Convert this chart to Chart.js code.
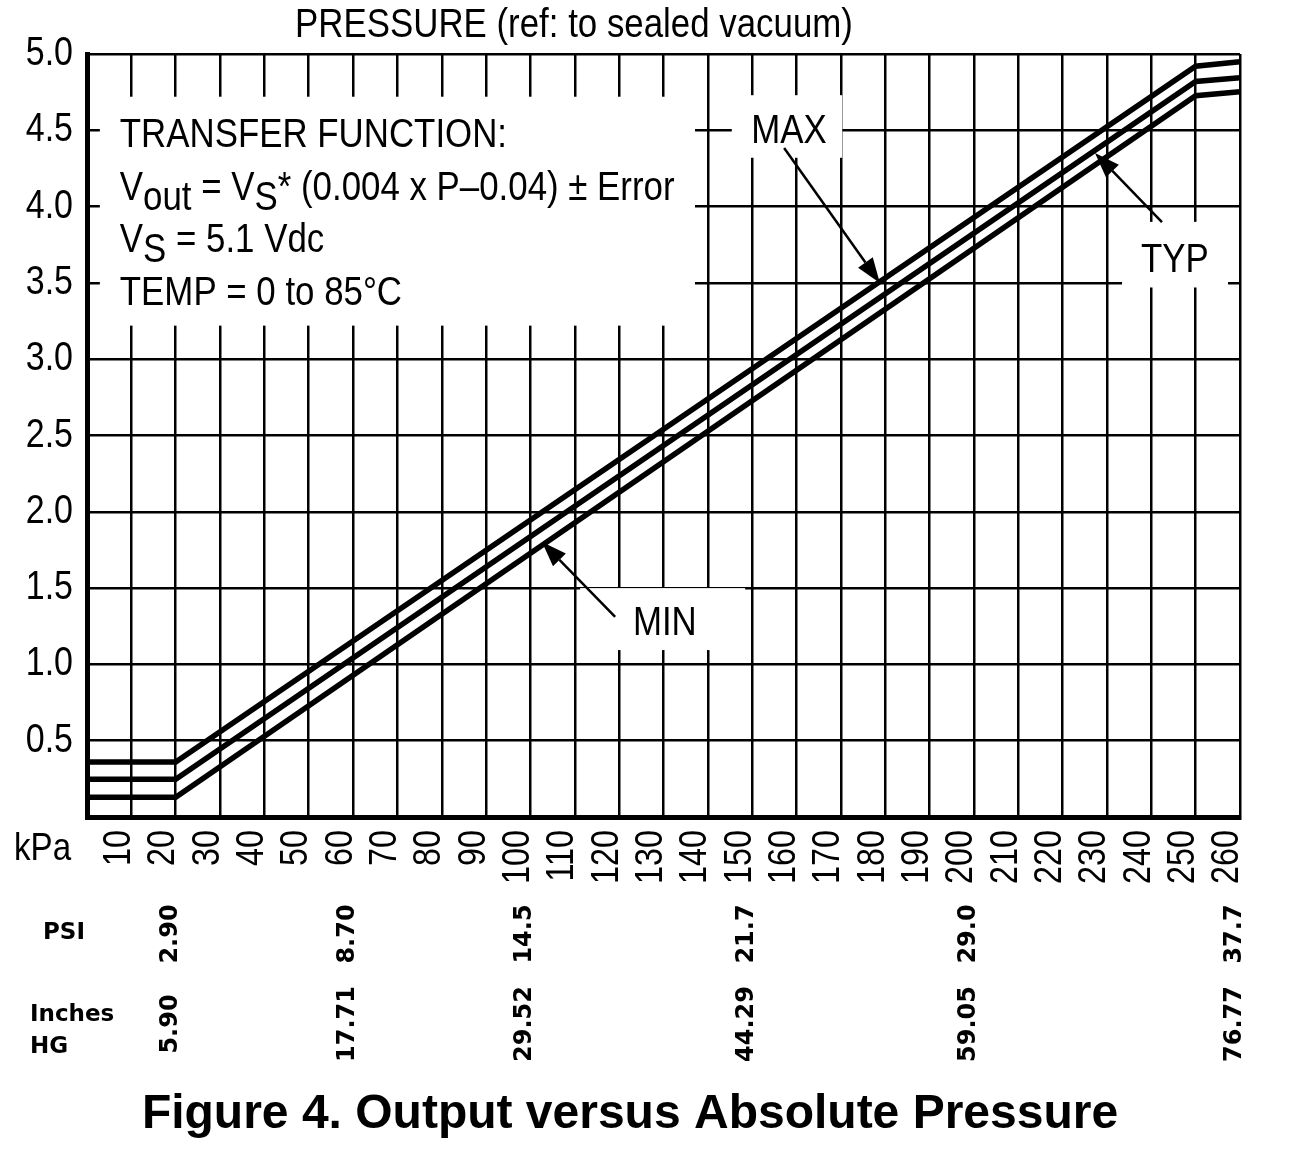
<!DOCTYPE html>
<html><head><meta charset="utf-8">
<script src="https://cdn.jsdelivr.net/npm/chart.js@4.4.1/dist/chart.umd.min.js"></script>
<style>html,body{margin:0;padding:0;background:#fff}canvas{display:block}</style>
</head><body>
<canvas id="c" width="1300" height="1150"></canvas>
<script>
// ---- data ----
const pressureKpa = [0, 20, 250, 260];
const maxOut = [0.36, 0.36, 4.92, 4.95];
const typOut = [0.247, 0.247, 4.82, 4.845];
const minOut = [0.129, 0.129, 4.727, 4.753];
const kpaMin = 0, kpaMax = 260, kpaStep = 10;
const voltMin = 0, voltMax = 5, voltStep = 0.5;
const psiAtKpa = [20, 60, 100, 150, 200, 260];
const psiLabels = ['2.90', '8.70', '14.5', '21.7', '29.0', '37.7'];
const hgLabels = ['5.90', '17.71', '29.52', '44.29', '59.05', '76.77'];

// ---- annotation anchors (data units) ----
const transferBox = {x0: 2.9, x1: 137.1, y0: 4.72, y1: 3.22};
const transferAnchor = {x: 7.4, y: 4.39};
const labelBoxes = [
  {text: 'MAX', x0: 145.4, x1: 170.3, y0: 4.73, y1: 4.32, tx: 158.3, ty: 4.417, ax0: 157.2, ay0: 4.384, ax1: 178.8, ay1: 3.50},
  {text: 'TYP', x0: 233.4, x1: 257.3, y0: 3.90, y1: 3.47, tx: 245.3, ty: 3.571, ax0: 242.4, ay0: 3.899, ax1: 227.3, ay1: 4.351},
  {text: 'MIN', x0: 111.2, x1: 148.4, y0: 1.50, y1: 1.094, tx: 130.3, ty: 1.193, ax0: 119.1, ay0: 1.311, ax1: 102.6, ay1: 1.802}
];

// condensed look: text drawn with family "SqueezeNarrow" is compressed horizontally
const SQUEEZE = 0.85;
const FAKE = 'SqueezeNarrow';
(function () {
  const P = CanvasRenderingContext2D.prototype;
  const oFill = P.fillText, oMeasure = P.measureText;
  P.fillText = function (t, x, y, mw) {
    if (this.font.indexOf(FAKE) >= 0) {
      this.save(); this.translate(x, y); this.scale(SQUEEZE, 1);
      if (mw === undefined) oFill.call(this, t, 0, 0); else oFill.call(this, t, 0, 0, mw / SQUEEZE);
      this.restore();
    } else {
      if (mw === undefined) oFill.call(this, t, x, y); else oFill.call(this, t, x, y, mw);
    }
  };
  P.measureText = function (t) {
    const m = oMeasure.call(this, t);
    if (this.font.indexOf(FAKE) >= 0) {
      return {
        width: m.width * SQUEEZE,
        actualBoundingBoxAscent: m.actualBoundingBoxAscent,
        actualBoundingBoxDescent: m.actualBoundingBoxDescent,
        actualBoundingBoxLeft: m.actualBoundingBoxLeft * SQUEEZE,
        actualBoundingBoxRight: m.actualBoundingBoxRight * SQUEEZE,
        fontBoundingBoxAscent: m.fontBoundingBoxAscent,
        fontBoundingBoxDescent: m.fontBoundingBoxDescent
      };
    }
    return m;
  };
})();

const NARROW = FAKE + ', "Liberation Sans", Arial, sans-serif';
const BOLDF = '"DejaVu Sans", Verdana, sans-serif';

function pts(ys) { return pressureKpa.map((x, i) => ({x: x, y: ys[i]})); }

function arrow(ctx, x0, y0, x1, y1) {
  const ang = Math.atan2(y1 - y0, x1 - x0);
  const L = 25, W = 9;
  const bx = x1 - L * Math.cos(ang), by = y1 - L * Math.sin(ang);
  ctx.beginPath();
  ctx.moveTo(x0, y0); ctx.lineTo(bx, by);
  ctx.lineWidth = 2.5; ctx.strokeStyle = '#000'; ctx.stroke();
  ctx.beginPath();
  ctx.moveTo(x1, y1);
  ctx.lineTo(bx + W * Math.sin(ang), by - W * Math.cos(ang));
  ctx.lineTo(bx - W * Math.sin(ang), by + W * Math.cos(ang));
  ctx.closePath(); ctx.fillStyle = '#000'; ctx.fill();
}

const annot = {
  id: 'annot',
  beforeDatasetsDraw(chart) {
    const ctx = chart.ctx, xs = chart.scales.x, ys = chart.scales.y;
    ctx.save();
    ctx.fillStyle = '#fff';
    const bx = xs.getPixelForValue(transferBox.x0), bx1 = xs.getPixelForValue(transferBox.x1);
    const by = ys.getPixelForValue(transferBox.y0), by1 = ys.getPixelForValue(transferBox.y1);
    ctx.fillRect(bx, by, bx1 - bx, by1 - by);
    labelBoxes.forEach(b => {
      const x0 = xs.getPixelForValue(b.x0), x1 = xs.getPixelForValue(b.x1);
      const y0 = ys.getPixelForValue(b.y0), y1 = ys.getPixelForValue(b.y1);
      ctx.fillStyle = '#fff';
      ctx.fillRect(x0, y0, x1 - x0, y1 - y0);
      ctx.fillStyle = '#000';
      ctx.font = '41px ' + NARROW;
      ctx.textAlign = 'center'; ctx.textBaseline = 'alphabetic';
      ctx.fillText(b.text, xs.getPixelForValue(b.tx), ys.getPixelForValue(b.ty));
    });
    // transfer function text
    ctx.fillStyle = '#000';
    ctx.textAlign = 'left'; ctx.textBaseline = 'alphabetic';
    ctx.font = '41px ' + NARROW;
    const tx = xs.getPixelForValue(transferAnchor.x);
    let ty = ys.getPixelForValue(transferAnchor.y);
    const lh = 52.7, sub = 10;
    ctx.fillText('TRANSFER FUNCTION:', tx, ty);
    ty += lh;
    let cx = tx;
    const seg = (s, dy) => { ctx.fillText(s, cx, ty + dy); cx += ctx.measureText(s).width; };
    seg('V', 0); seg('out', sub); seg(' = V', 0); seg('S', sub); seg('* (0.004 x P\u20130.04) \u00B1 Error', 0);
    ty += lh; cx = tx;
    seg('V', 0); seg('S', sub); seg(' = 5.1 Vdc', 0);
    ty += lh; cx = tx;
    seg('TEMP = 0 to 85\u00B0C', 0);
    ctx.restore();
  },
  afterDraw(chart) {
    const ctx = chart.ctx, xs = chart.scales.x, ys = chart.scales.y;
    ctx.save();
    labelBoxes.forEach(b => {
      arrow(ctx, xs.getPixelForValue(b.ax0), ys.getPixelForValue(b.ay0), xs.getPixelForValue(b.ax1), ys.getPixelForValue(b.ay1));
    });
    ctx.fillStyle = '#000';
    // top caption
    ctx.font = '41px ' + NARROW;
    ctx.textAlign = 'center'; ctx.textBaseline = 'alphabetic';
    ctx.fillText('PRESSURE (ref: to sealed vacuum)', 574, 37);
    // kPa
    ctx.font = '39px ' + NARROW;
    ctx.textAlign = 'left';
    ctx.fillText('kPa', 14, 860);
    // PSI / Inches HG
    ctx.font = 'bold 23px ' + BOLDF;
    ctx.textAlign = 'left'; ctx.textBaseline = 'middle';
    ctx.fillText('PSI', 43, 933);
    ctx.fillText('Inches', 30, 1015);
    ctx.fillText('HG', 30, 1047);
    ctx.font = 'bold 24px ' + BOLDF;
    ctx.textAlign = 'center'; ctx.textBaseline = 'alphabetic';
    psiAtKpa.forEach((k, i) => {
      const px = xs.getPixelForValue(k) + 1;
      ctx.save(); ctx.translate(px, 934); ctx.rotate(-Math.PI / 2);
      ctx.fillText(psiLabels[i], 0, 0); ctx.restore();
      ctx.save(); ctx.translate(px, 1024); ctx.rotate(-Math.PI / 2);
      ctx.fillText(hgLabels[i], 0, 0); ctx.restore();
    });
    // figure title
    ctx.font = 'bold 48px "Liberation Sans", Arial, sans-serif';
    ctx.textAlign = 'center';
    ctx.fillText('Figure 4. Output versus Absolute Pressure', 630, 1128);
    ctx.restore();
  }
};

new Chart(document.getElementById('c'), {
  type: 'line',
  data: {
    datasets: [
      {label: 'MAX', data: pts(maxOut)},
      {label: 'TYP', data: pts(typOut)},
      {label: 'MIN', data: pts(minOut)}
    ].map(d => Object.assign(d, {borderColor: '#000', borderWidth: 5.5, pointRadius: 0, tension: 0, fill: false, borderJoinStyle: 'miter'}))
  },
  options: {
    responsive: false, animation: false, devicePixelRatio: 1,
    layout: {padding: {top: 54, right: 60, left: 0, bottom: 0}},
    plugins: {legend: {display: false}, tooltip: {enabled: false}, title: {display: false}},
    scales: {
      x: {
        type: 'linear', min: kpaMin, max: kpaMax,
        afterFit(s) { s.height = 333; },
        grid: {color: '#000', lineWidth: 2.5, drawTicks: false},
        border: {display: true, color: '#000', width: 5},
        ticks: {
          stepSize: kpaStep, autoSkip: false, minRotation: 90, maxRotation: 90, padding: 13, labelOffset: -12,
          color: '#000', font: {family: NARROW, size: 38},
          callback: v => v === 0 ? '' : String(v)
        }
      },
      y: {
        type: 'linear', min: voltMin, max: voltMax,
        afterFit(s) { s.width = 87; },
        grid: {color: '#000', lineWidth: 2.5, drawTicks: false},
        border: {display: true, color: '#000', width: 5},
        ticks: {
          stepSize: voltStep, padding: 14, color: '#000', font: {family: NARROW, size: 40},
          callback: v => v === 0 ? '' : v.toFixed(1)
        }
      }
    }
  },
  plugins: [annot]
});
</script>
</body></html>
